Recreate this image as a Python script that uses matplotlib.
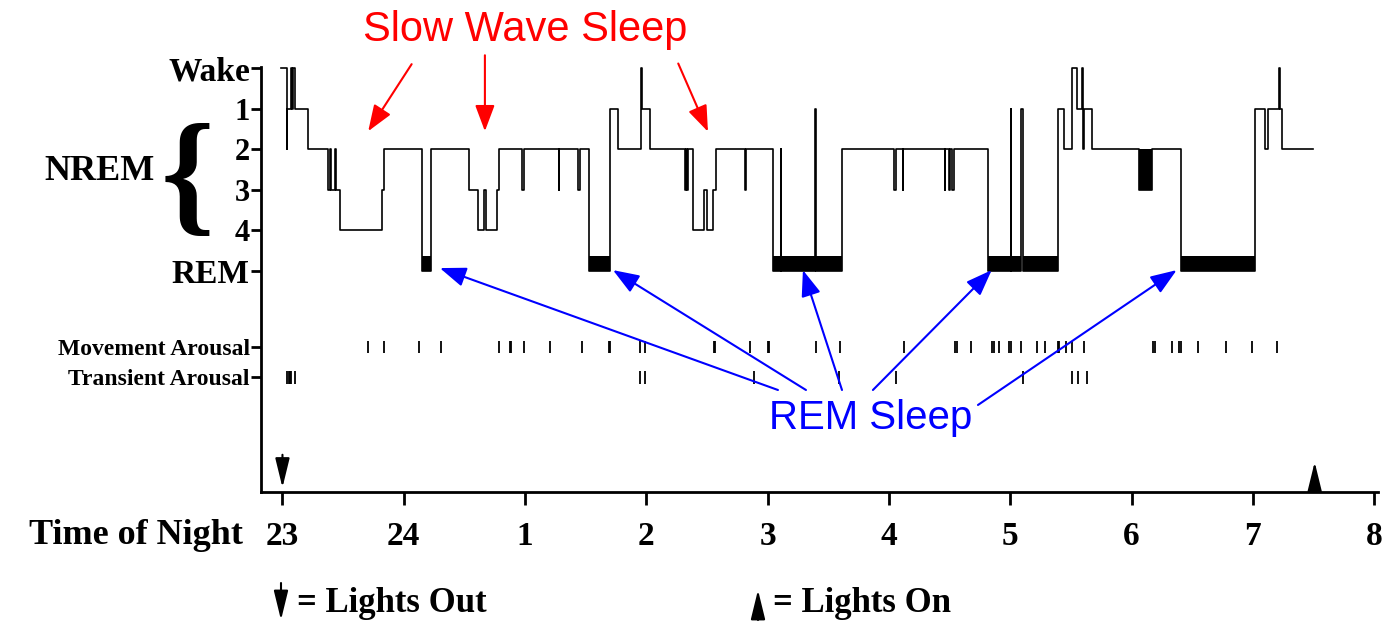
import numpy as np
import matplotlib.pyplot as plt

# hypnogram: hours after 23:00 and stage code (5=Wake, 4..1 = NREM 1..4, 0=REM)
hours = [-0.010, 0.035, 0.041, 0.074, 0.082, 0.091, 0.103, 0.208, 0.373, 0.388,
         0.400, 0.437, 0.445, 0.474, 0.818, 0.839, 1.153, 1.224, 1.540, 1.612,
         1.661, 1.678, 1.766, 1.785, 1.974, 1.991, 2.278, 2.284, 2.436, 2.453,
         2.529, 2.700, 2.768, 2.960, 2.965, 3.030, 3.322, 3.331, 3.339, 3.347,
         3.387, 3.475, 3.496, 3.552, 3.571, 3.813, 3.825, 4.046, 4.107, 4.112,
         4.393, 4.398, 4.610, 5.044, 5.058, 5.115, 5.120, 5.459, 5.464, 5.495,
         5.500, 5.524, 5.536, 5.814, 6.003, 6.008, 6.092, 6.105, 6.396, 6.443,
         6.506, 6.547, 6.589, 6.599, 6.612, 6.671, 7.063, 7.166, 7.407, 8.017,
         8.100, 8.127, 8.215, 8.221, 8.242, 8.498]
stage = [5, 3, 4, 5, 4, 5, 4, 3, 2, 3,
         2, 3, 2, 1, 2, 3, 0, 3, 2, 1,
         2, 1, 2, 3, 2, 3, 2, 3, 2, 3,
         0, 4, 3, 5, 4, 3, 2, 3, 2, 3,
         1, 2, 1, 2, 3, 2, 3, 0, 3, 0,
         4, 0, 3, 2, 3, 2, 3, 2, 3, 2,
         3, 2, 3, 0, 4, 0, 4, 0, 4, 3,
         5, 4, 5, 3, 4, 3, 2, 3, 0, 4,
         3, 4, 5, 4, 3, 3]

# stretch of rapid 2/3 switching drawn solid
dense_start = [7.063]
dense_end = [7.166]

movement = [0.702, 0.839, 1.125, 1.307, 1.785, 1.874, 1.886, 1.991, 2.205, 2.472,
            2.688, 2.700, 2.947, 2.988, 3.554, 3.566, 3.854, 3.999, 4.011, 4.396,
            4.596, 5.124, 5.546, 5.558, 5.674, 5.851, 5.863, 5.909, 5.992, 6.004,
            6.088, 6.223, 6.286, 6.391, 6.403, 6.459, 6.506, 6.608, 7.179, 7.191,
            7.331, 7.393, 7.405, 7.545, 7.778, 7.990, 8.196]
transient = [0.040, 0.050, 0.060, 0.070, 0.101, 2.947, 2.988, 3.889, 4.590, 5.058,
             6.107, 6.511, 6.561, 6.635]

y_ticks = [5, 4, 3, 2, 1, 0, -1.89, -2.63]
y_labels = ['Wake', '1', '2', '3', '4', 'REM', 'Movement Arousal', 'Transient Arousal']
x_labels = ['23', '24', '1', '2', '3', '4', '5', '6', '7', '8']

lights_out = 0.0
lights_on = 8.51

SERIF = 'Liberation Serif'
SANS = 'Liberation Sans'

fig = plt.figure(figsize=(13.89, 6.25), dpi=100)
ax = fig.add_axes([0.1879, 0.2128, 0.804, 0.680])

hours = np.array(hours)
stage = np.array(stage)
ax.step(hours, stage, where='post', color='black', lw=1.2, clip_on=False)

# REM periods as solid bars
for i in range(len(hours) - 1):
    if stage[i] == 0:
        ax.fill_between([hours[i], hours[i + 1]], -0.02, 0.35, color='black', lw=0)
for a, b in zip(dense_start, dense_end):
    ax.fill_between([a, b], 2, 3, color='black', lw=0)

ax.vlines(movement, -1.89 - 0.14, -1.89 + 0.14, color='black', lw=1.3)
ax.vlines(transient, -2.63 - 0.16, -2.63 + 0.16, color='black', lw=1.3)

# lights out / lights on markers
head = dict(arrowstyle='-|>,head_length=0.9,head_width=0.22', color='black',
            lw=1.5, mutation_scale=20, shrinkA=0, shrinkB=0)
ax.annotate('', xy=(lights_out, -5.36), xytext=(lights_out, -4.55), arrowprops=head,
            annotation_clip=False)
ax.annotate('', xy=(lights_on, -4.73), xytext=(lights_on, -5.45), arrowprops=head,
            annotation_clip=False)

ax.set_xlim(-0.177, 9.03)
ax.set_ylim(-5.47, 5.03)
ax.set_xticks(range(10))
ax.set_xticklabels(x_labels, fontsize=24, fontweight='bold', family=SERIF)
ax.set_yticks(y_ticks)
ax.set_yticklabels(y_labels, fontweight='bold', family=SERIF)
sizes = [24, 22, 22, 22, 22, 24, 17, 17]
for lab, sz in zip(ax.get_yticklabels(), sizes):
    lab.set_fontsize(sz)
ax.tick_params(axis='x', length=9, width=2, pad=12)
ax.tick_params(axis='y', length=7, width=2, pad=1)
for s in ['top', 'right']:
    ax.spines[s].set_visible(False)
for s in ['left', 'bottom']:
    ax.spines[s].set_linewidth(2)

fig.text(0.175, 0.144, 'Time of Night', ha='right', va='center', fontsize=26,
         fontweight='bold', family=SERIF)
fig.text(0.1116, 0.7248, 'NREM', ha='right', va='center', fontsize=26,
         fontweight='bold', family=SERIF)
fig.text(0.1346, 0.705, '{', ha='center', va='center', fontsize=98,
         fontweight='bold', family=SERIF)

# legend for the arrows
ax.annotate('', xy=(281, 5), xytext=(281, 42), xycoords='figure pixels', arrowprops=head)
ax.annotate('', xy=(758, 35), xytext=(758, 5), xycoords='figure pixels', arrowprops=head)
fig.text(0.2138, 0.035, '= Lights Out', ha='left', va='center', fontsize=25,
         fontweight='bold', family=SERIF)
fig.text(0.5565, 0.035, '= Lights On', ha='left', va='center', fontsize=25,
         fontweight='bold', family=SERIF)

# annotations
red = dict(arrowstyle='-|>,head_length=0.8,head_width=0.3', color='red', lw=1.5,
           mutation_scale=20, shrinkA=0, shrinkB=0)
ax.text(1.999, 5.94, 'Slow Wave Sleep', color='red', fontsize=30, family=SANS,
        ha='center', va='center')
for tail, tip in [((1.065, 5.10), (0.707, 3.444)), ((1.669, 5.32), (1.669, 3.444)),
                  ((3.263, 5.116), (3.508, 3.432))]:
    ax.annotate('', xy=tip, xytext=tail, arrowprops=red, annotation_clip=False)

blue = dict(red, color='blue')
ax.text(4.852, -3.64, 'REM Sleep', color='blue', fontsize=29, family=SANS,
        ha='center', va='center')
for tail, tip in [((4.085, -2.95), (1.298, 0.062)), ((4.316, -2.95), (2.725, 0.012)),
                  ((4.613, -2.95), (4.291, 0.012)), ((4.868, -2.95), (5.847, 0.012)),
                  ((5.734, -3.32), (7.372, 0.012))]:
    ax.annotate('', xy=tip, xytext=tail, arrowprops=blue, annotation_clip=False)

fig.savefig('out.png', dpi=100)
